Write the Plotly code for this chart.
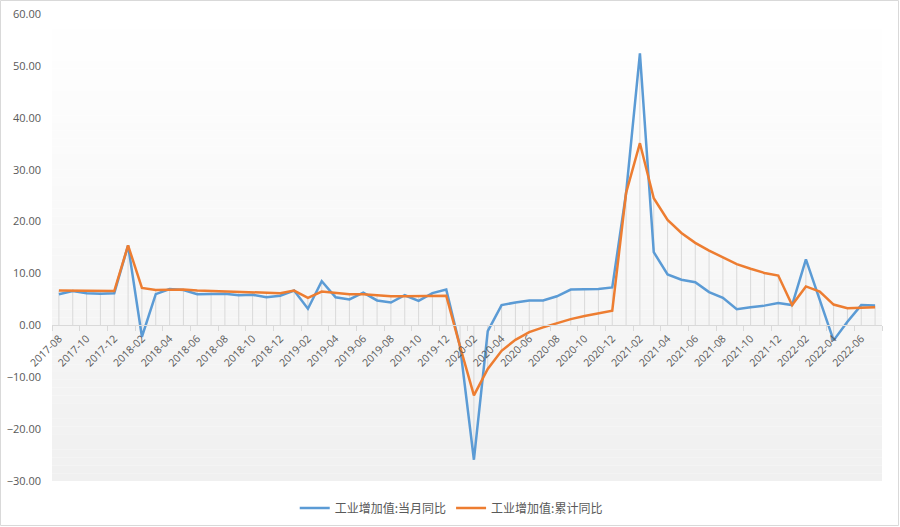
import plotly.graph_objects as go

# ---------------- data ----------------
months = []
for y in range(2017, 2023):
    for m in range(1, 13):
        if (y == 2017 and m < 8) or (y == 2022 and m > 7):
            continue
        months.append(f"{y}-{m:02d}")

monthly_yoy = [
    6.0, 6.6, 6.2, 6.1, 6.2,
    15.4, -2.2, 6.0, 7.0, 6.8, 6.0, 6.0, 6.1, 5.8, 5.9, 5.4, 5.7,
    6.7, 3.2, 8.5, 5.4, 5.0, 6.3, 4.8, 4.4, 5.8, 4.7, 6.2, 6.9,
    -4.1, -25.9, -1.1, 3.9, 4.4, 4.8, 4.8, 5.6, 6.9, 6.9, 7.0, 7.3,
    25.5, 52.4, 14.1, 9.8, 8.8, 8.3, 6.4, 5.3, 3.1, 3.5, 3.8, 4.3,
    3.9, 12.7, 5.0, -2.9, 0.7, 3.9, 3.8,
]
cumulative_yoy = [
    6.7, 6.7, 6.7, 6.6, 6.6,
    15.4, 7.2, 6.8, 6.9, 6.9, 6.7, 6.6, 6.5, 6.4, 6.4, 6.3, 6.2,
    6.7, 5.3, 6.5, 6.2, 6.0, 6.0, 5.8, 5.6, 5.6, 5.6, 5.6, 5.7,
    -4.1, -13.5, -8.4, -4.9, -2.8, -1.3, -0.4, 0.4, 1.2, 1.8, 2.3, 2.8,
    25.5, 35.1, 24.5, 20.3, 17.8, 15.9, 14.4, 13.1, 11.8, 10.9, 10.1, 9.6,
    3.9, 7.5, 6.5, 4.0, 3.3, 3.4, 3.5,
]
series_names = ["工业增加值:当月同比", "工业增加值:累计同比"]
y_ticks = [-30, -20, -10, 0, 10, 20, 30, 40, 50, 60]

# ---------------- figure ----------------
W, H = 900, 527
L, R, T, B = 52, 18, 14, 46
pw, ph = W - L - R, H - T - B

fig = go.Figure()

# drop lines from the axis to the highest point
dx, dy = [], []
for c, a, b in zip(months, monthly_yoy, cumulative_yoy):
    lo, hi = min(0, a, b), max(0, a, b)
    dx += [c, c, c]
    dy += [lo, hi, None]
fig.add_trace(go.Scatter(x=dx, y=dy, mode="lines",
                         line=dict(color="#d9d9d9", width=1),
                         showlegend=False, hoverinfo="skip", connectgaps=False))

fig.add_trace(go.Scatter(x=months, y=monthly_yoy, mode="lines", name=series_names[0],
                         line=dict(color="#5b9bd5", width=2.5)))
fig.add_trace(go.Scatter(x=months, y=cumulative_yoy, mode="lines", name=series_names[1],
                         line=dict(color="#ed7d31", width=2.5)))

# gradient plot background
shapes = []
n = 60
for k in range(n):
    t = (k + 0.5) / n  # 0 top -> 1 bottom
    v = int(round(255 - t * 15))
    shapes.append(dict(type="rect", xref="paper", yref="paper", layer="below",
                       x0=0, x1=1, y0=1 - (k + 1) / n, y1=1 - k / n,
                       fillcolor=f"rgb({v},{v},{v})", line=dict(width=0)))
# outer border
shapes.append(dict(type="rect", xref="paper", yref="paper", layer="above",
                   x0=(0.5 - L) / pw, x1=(W - 1.5 - L) / pw,
                   y0=(H - B - (H - 1.5)) / ph, y1=(H - B - 0.5) / ph,
                   line=dict(color="#d9d9d9", width=1), fillcolor="rgba(0,0,0,0)"))

font_fam = "Open Sans, Noto Sans CJK SC, sans-serif"
fig.update_layout(
    width=W, height=H,
    margin=dict(l=L, r=R, t=T, b=B, autoexpand=False),
    paper_bgcolor="white", plot_bgcolor="rgba(0,0,0,0)",
    font=dict(family=font_fam, color="#595959", size=11),
    shapes=shapes,
    showlegend=True,
    hovermode=False,
    legend=dict(orientation="h", x=0.481, xanchor="center", y=-0.058, yanchor="middle",
                font=dict(size=12, color="#595959",
                          family="Noto Sans CJK SC, sans-serif"),
                bgcolor="rgba(0,0,0,0)", itemwidth=30),
    xaxis=dict(type="category", anchor="free", position=30 / 90, automargin=False,
               showline=True, linecolor="#d9d9d9", linewidth=1,
               ticks="outside", tickcolor="#d9d9d9", ticklen=5, tickson="boundaries",
               dtick=2, tickangle=-45, showgrid=False, zeroline=False,
               ticklabelstandoff=2,
               tickfont=dict(size=10.5, color="#595959"),
               range=[-0.5, len(months) - 0.5]),
    yaxis=dict(range=[-30, 60], tickvals=y_ticks, tickformat=".2f", automargin=False,
               showgrid=False, zeroline=False, showline=False,
               ticklabelstandoff=10, tickfont=dict(size=11, color="#595959")),
)

fig.write_html("out.html",
               config={"displayModeBar": False},
               post_script="document.body.style.margin='0';document.body.style.overflow='hidden';")
